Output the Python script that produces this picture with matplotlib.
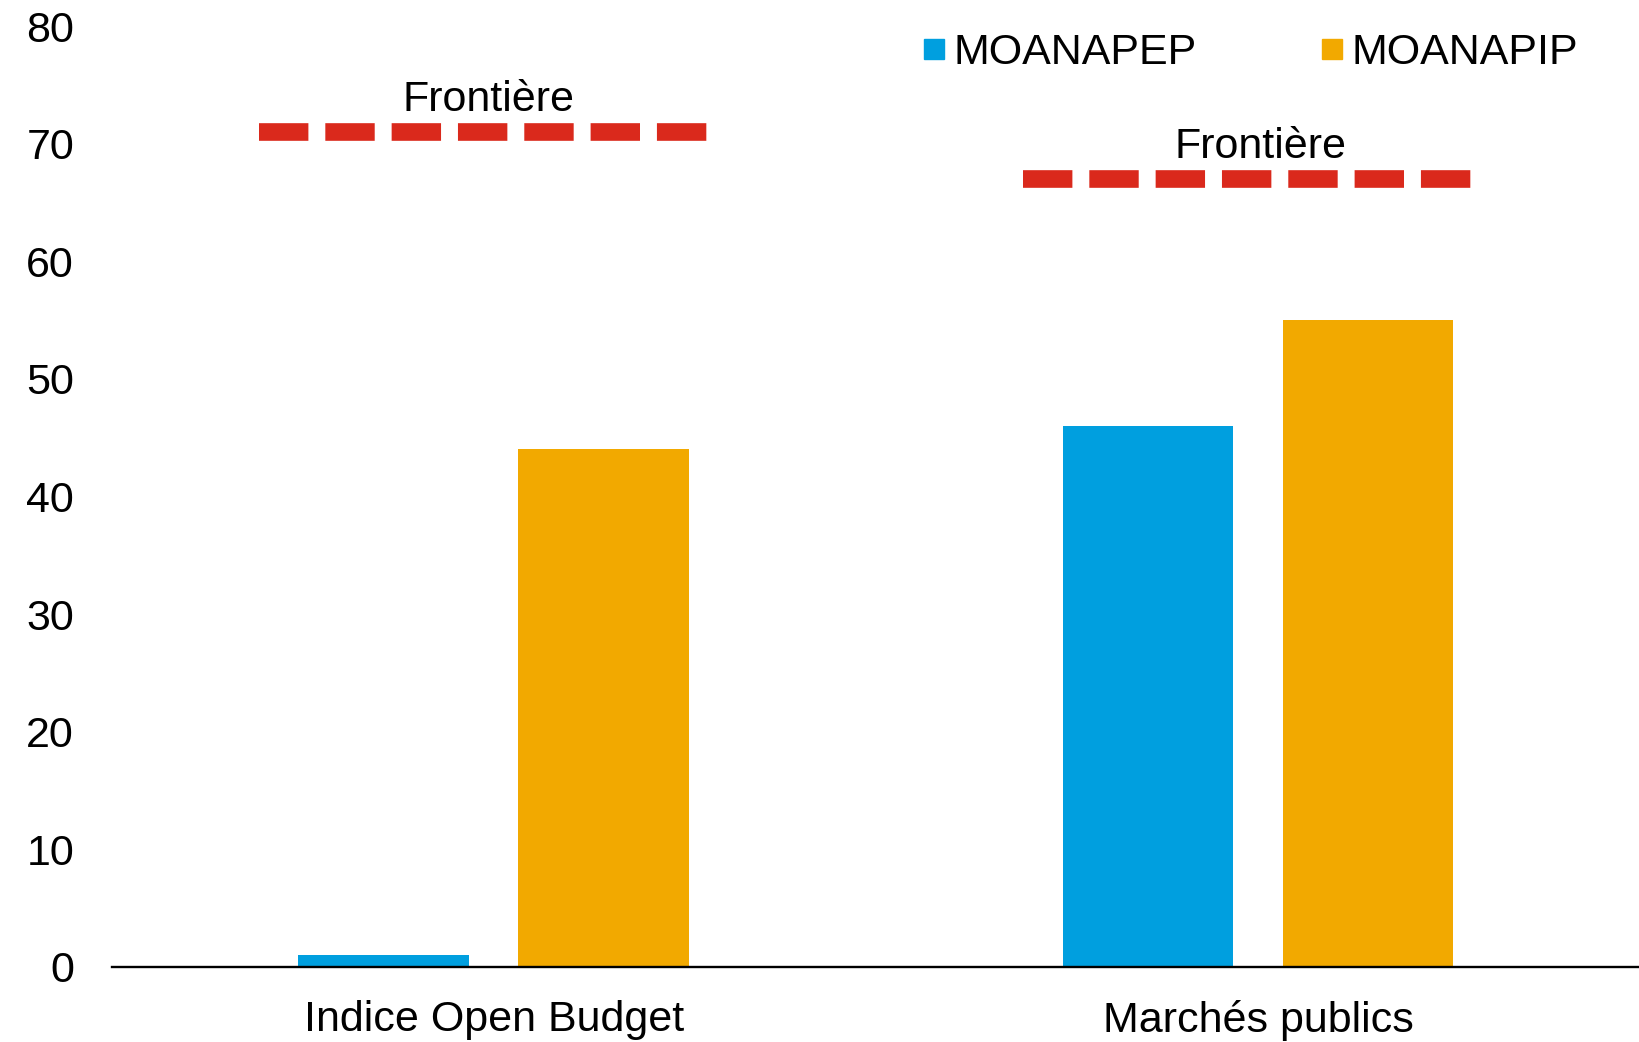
import numpy as np
import matplotlib
matplotlib.use("Agg")
import matplotlib.pyplot as plt
from matplotlib.lines import Line2D

plt.rcParams['font.family'] = ['Liberation Sans', 'DejaVu Sans']

categories = ["Indice Open Budget", "Marchés publics"]
series = ["MOANAPEP", "MOANAPIP"]
moanapep = [1, 46]
moanapip = [44, 55]
frontiere = [71, 67]
colors = ["#009FDF", "#F2A900"]
red = "#DA291C"

fig = plt.figure(figsize=(16.4, 10.42), dpi=100)
ax = fig.add_axes([0.068, 0.072, 0.932, 0.903])

x = np.arange(len(categories))
w = 0.223
off = 0.144
ax.bar(x - off, moanapep, w, color=colors[0])
ax.bar(x + off, moanapip, w, color=colors[1])

# frontier dashed lines with labels
label_dx = [-4, 2]
for xi, f, dx in zip(x, frontiere, label_dx):
    ax.plot([xi - 0.307, xi + 0.287], [f, f], color=red, lw=12.7,
            linestyle=(0, (2.8, 0.96)), solid_capstyle='butt', dash_capstyle='butt')
    ax.annotate("Frontière", (xi, f), xytext=(dx, 15), textcoords='offset points',
                ha='center', va='baseline', fontsize=31)

ax.set_xlim(-0.5, 1.5)
ax.set_ylim(0, 80)
ax.set_yticks(range(0, 81, 10))
ax.set_xticks(x)
ax.set_xticklabels(categories)
ax.tick_params(axis='both', length=0, labelsize=31)
ax.tick_params(axis='y', pad=27)
ax.tick_params(axis='x', pad=24)
for s in ['top', 'right', 'left']:
    ax.spines[s].set_visible(False)
ax.spines['bottom'].set_linewidth(1.7)
ax.spines['bottom'].set_color('black')

handles = [Line2D([], [], marker='s', linestyle='none', markersize=15,
                  markerfacecolor=c, markeredgecolor=c) for c in colors]
fig.legend(handles, series, loc='center left', bbox_to_anchor=(0.563, 0.949),
           ncol=2, frameon=False, fontsize=31, handlelength=0.5,
           handletextpad=0.2, columnspacing=2.9, borderpad=0, borderaxespad=0)

fig.savefig("out.png", dpi=100)
